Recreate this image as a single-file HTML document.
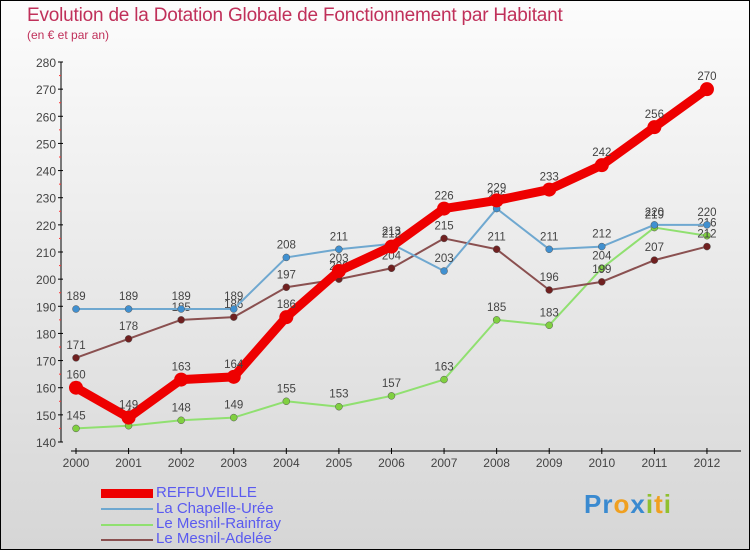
<!DOCTYPE html>
<html><head><meta charset="utf-8"><style>
body{margin:0}
#c{width:750px;height:550px;position:relative;box-sizing:border-box;border:1px solid #000;background:linear-gradient(#fcfcfc,#d6d6d6);font-family:"Liberation Sans",sans-serif;overflow:hidden}
.t{position:absolute;left:26px;top:4px;font-size:19px;color:#c0305a;letter-spacing:-0.2px}
.s{position:absolute;left:26px;top:27px;font-size:12px;color:#c0305a}
.leg{position:absolute;left:100px;font-size:15px;color:#5a5af0;line-height:16px}
.sw{position:absolute;left:100px;width:52px}
</style></head><body>
<div id="c">
<div class="t">Evolution de la Dotation Globale de Fonctionnement par Habitant</div>
<div class="s">(en € et par an)</div>
<svg id="svg" width="750" height="550" style="position:absolute;left:0;top:0"></svg>
<div class="sw" style="top:488px;height:9px;background:#e00"></div>
<div class="leg" style="left:155px;top:484px">REFFUVEILLE</div>
<div class="sw" style="top:507px;height:2px;background:#6fa8d0"></div>
<div class="leg" style="left:155px;top:500px">La Chapelle-Urée</div>
<div class="sw" style="top:523px;height:2px;background:#90e070"></div>
<div class="leg" style="left:155px;top:515px">Le Mesnil-Rainfray</div>
<div class="sw" style="top:538px;height:2px;background:#8a5050"></div>
<div class="leg" style="left:155px;top:530px">Le Mesnil-Adelée</div>
<div style="position:absolute;left:583px;top:488px;font-size:26px;font-weight:bold;color:#f0a020;letter-spacing:1px"><span style="color:#3a8ad0">Pr</span>o<span style="color:#3a8ad0">x</span><span style="color:#90c030">i</span>t<span style="color:#90c030">i</span></div>
</div>
<script>
const years=[2000,2001,2002,2003,2004,2005,2006,2007,2008,2009,2010,2011,2012];
const yTicks=[140,150,160,170,180,190,200,210,220,230,240,250,260,270,280];
const refeuveille=[160,149,163,164,186,203,212,226,229,233,242,256,270];
const chapelle=[189,189,189,189,208,211,213,203,226,211,212,220,220];
const rainfray=[145,146,148,149,155,153,157,163,185,183,204,219,216];
const adelee=[171,178,185,186,197,200,204,215,211,196,199,207,212];
const svg=document.getElementById('svg');const NS='http://www.w3.org/2000/svg';
const X=i=>75+i*52.58;const Y=v=>441-(v-140)*380/140;
function mk(t,a,p){const e=document.createElementNS(NS,t);for(const k in a)e.setAttribute(k,a[k]);(p||svg).appendChild(e);return e;}
let ax=mk('line',{x1:60,y1:61,x2:60,y2:441,stroke:'#000'});


yTicks.forEach(v=>{mk('line',{x1:57,x2:62,y1:Y(v),y2:Y(v),stroke:'#000'});
if(v<280)mk('line',{x1:58,x2:60,y1:Y(v+5),y2:Y(v+5),stroke:'#f33'});
const t=mk('text',{x:55,y:Y(v)+5,'text-anchor':'end','font-size':12,fill:'#444'});t.textContent=v;

});
let xa=mk('line',{x1:70,y1:450,x2:740,y2:450,stroke:'#000'});


years.forEach((y,i)=>{mk('line',{x1:X(i),x2:X(i),y1:447,y2:453,stroke:'#000'});
const t=mk('text',{x:X(i),y:466,'text-anchor':'middle','font-size':12,fill:'#444'});t.textContent=y;

});
function series(d,col,w,r,name,dot){const g=mk('g',{});


mk('polyline',{points:d.map((v,i)=>X(i)+','+Y(v)).join(' '),fill:'none',stroke:col,'stroke-width':w,'stroke-linejoin':'round'},g);
d.forEach((v,i)=>{const c=mk('circle',{cx:X(i),cy:Y(v),r:r,fill:dot,stroke:w>3?'none':'#555','stroke-width':0.5},g);


const t=mk('text',{x:X(i),y:Y(v)-9,'text-anchor':'middle','font-size':11.5,fill:'#444'},g);t.textContent=v;

});}
series(rainfray,'#90e070',2,3.5,'rainfray','#80d040');
series(adelee,'#8a5050',2,3.5,'adelee','#702020');
series(chapelle,'#6fa8d0',2,3.5,'chapelle','#4090d0');
series(refeuveille,'#e00',9,7,'refeuveille','#e00');
</script>
</body></html>
